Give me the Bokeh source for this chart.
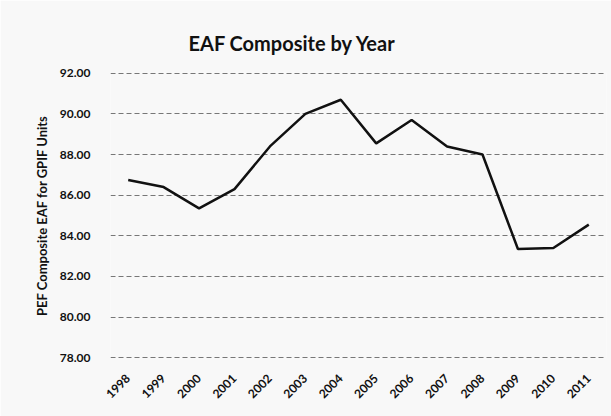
import math
from bokeh.plotting import figure
from bokeh.models import FixedTicker, NumeralTickFormatter, FactorRange, Range1d
from bokeh.embed import file_html
from bokeh.resources import INLINE

years = ["1998", "1999", "2000", "2001", "2002", "2003", "2004",
         "2005", "2006", "2007", "2008", "2009", "2010", "2011"]
eaf = [86.75, 86.40, 85.35, 86.30, 88.40, 90.00, 90.70,
       88.55, 89.70, 88.40, 88.00, 83.35, 83.40, 84.55]
y_ticks = [78, 80, 82, 84, 86, 88, 90, 92]

title_text = "EAF Composite by Year"
y_title = "PEF Composite EAF for GPIF Units"

FONT = "Lato"
BG = "#f8f8f8"

p = figure(width=611, height=416, output_backend="svg", toolbar_location=None,
           x_range=FactorRange(*years, range_padding=0),
           y_range=Range1d(77.96, 92.04),
           min_border_left=110, min_border_right=5,
           min_border_top=72, min_border_bottom=58)

p.background_fill_color = BG
p.border_fill_color = BG
p.outline_line_color = None

p.title.text = title_text
p.title.align = "left"
p.title.offset = 78
p.title.standoff = 36
p.title.text_font = FONT
p.title.text_font_size = "20px"
p.title.text_font_style = "bold"
p.title.text_color = "#111111"

p.line(x=years, y=eaf, line_color="#111111", line_width=2.5)

p.yaxis.ticker = FixedTicker(ticks=y_ticks)
p.yaxis.formatter = NumeralTickFormatter(format="0.00")
p.yaxis.axis_label = y_title
p.yaxis.axis_label_text_font = FONT
p.yaxis.axis_label_text_font_size = "13px"
p.yaxis.axis_label_text_font_style = "bold"
p.yaxis.axis_label_text_color = "#111111"
p.yaxis.axis_label_standoff = 7
p.yaxis.major_label_standoff = 14
p.yaxis.major_label_text_font = FONT
p.yaxis.major_label_text_font_size = "12px"
p.yaxis.major_label_text_font_style = "bold"
p.yaxis.major_label_text_color = "#111111"
p.yaxis.axis_line_color = None
p.yaxis.major_tick_line_color = None
p.yaxis.minor_tick_line_color = None

p.xaxis.major_label_orientation = math.pi / 4
p.xaxis.major_label_standoff = 12
p.xaxis.major_label_text_font = FONT
p.xaxis.major_label_text_font_size = "12px"
p.xaxis.major_label_text_font_style = "bold"
p.xaxis.major_label_text_color = "#111111"
p.xaxis.axis_line_color = None
p.xaxis.major_tick_line_color = None
p.xaxis.minor_tick_line_color = None

p.xgrid.grid_line_color = None
p.ygrid.grid_line_color = "#777777"
p.ygrid.grid_line_width = 1
p.ygrid.grid_line_dash = "5 3"

open("out.html", "w").write(file_html(p, INLINE))
